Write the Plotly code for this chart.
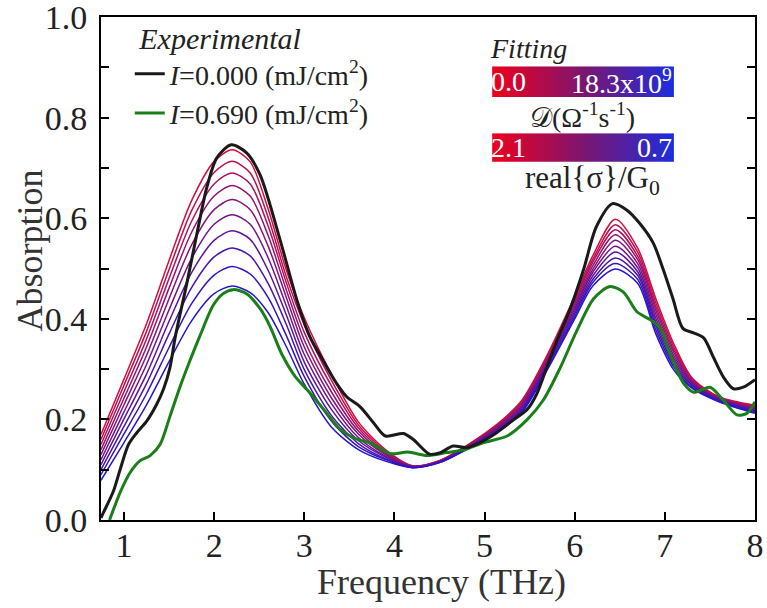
import numpy as np
import plotly.graph_objects as go

# ---------------- data ----------------
fit_freq = [0.745, 1.0, 1.25, 1.5, 1.75, 2.0, 2.2, 2.4, 2.6, 2.8, 3.0, 3.3, 3.6, 3.9, 4.2,
            4.5, 4.8, 5.1, 5.4, 5.7, 6.0, 6.2, 6.45, 6.7, 6.9, 7.1, 7.3, 7.6, 8.0]

fit_01 = [0.170, 0.280, 0.390, 0.516, 0.635, 0.713, 0.736, 0.712, 0.618, 0.497, 0.402, 0.290, 0.195, 0.140, 0.108,
          0.118, 0.148, 0.185, 0.235, 0.330, 0.445, 0.525, 0.598, 0.540, 0.440, 0.350, 0.283, 0.245, 0.228]
fit_02 = [0.160, 0.268, 0.375, 0.498, 0.615, 0.691, 0.713, 0.690, 0.601, 0.484, 0.388, 0.278, 0.189, 0.137, 0.108,
          0.118, 0.147, 0.183, 0.232, 0.327, 0.440, 0.518, 0.587, 0.532, 0.432, 0.344, 0.281, 0.244, 0.226]
fit_03 = [0.150, 0.255, 0.360, 0.480, 0.594, 0.668, 0.690, 0.668, 0.584, 0.472, 0.373, 0.267, 0.183, 0.135, 0.107,
          0.117, 0.146, 0.182, 0.229, 0.323, 0.435, 0.512, 0.577, 0.524, 0.424, 0.338, 0.278, 0.243, 0.224]
fit_04 = [0.140, 0.242, 0.344, 0.461, 0.572, 0.644, 0.665, 0.644, 0.565, 0.458, 0.358, 0.255, 0.177, 0.132, 0.107,
          0.117, 0.145, 0.180, 0.227, 0.320, 0.430, 0.505, 0.567, 0.517, 0.417, 0.333, 0.276, 0.242, 0.223]
fit_05 = [0.130, 0.229, 0.327, 0.440, 0.547, 0.617, 0.637, 0.617, 0.544, 0.443, 0.344, 0.243, 0.171, 0.130, 0.106,
          0.116, 0.144, 0.178, 0.224, 0.317, 0.425, 0.498, 0.556, 0.509, 0.409, 0.327, 0.274, 0.241, 0.221]
fit_06 = [0.120, 0.215, 0.309, 0.418, 0.520, 0.588, 0.607, 0.588, 0.521, 0.426, 0.329, 0.232, 0.164, 0.127, 0.106,
          0.116, 0.144, 0.177, 0.221, 0.313, 0.420, 0.492, 0.544, 0.501, 0.401, 0.321, 0.272, 0.240, 0.219]
fit_07 = [0.110, 0.201, 0.290, 0.395, 0.492, 0.556, 0.575, 0.558, 0.496, 0.408, 0.314, 0.220, 0.158, 0.125, 0.105,
          0.115, 0.143, 0.175, 0.218, 0.310, 0.415, 0.485, 0.533, 0.493, 0.393, 0.315, 0.269, 0.239, 0.217]
fit_08 = [0.100, 0.186, 0.271, 0.370, 0.462, 0.523, 0.541, 0.525, 0.470, 0.389, 0.299, 0.208, 0.152, 0.122, 0.105,
          0.115, 0.142, 0.173, 0.216, 0.307, 0.410, 0.478, 0.521, 0.486, 0.386, 0.309, 0.267, 0.238, 0.216]
fit_09 = [0.090, 0.171, 0.251, 0.343, 0.430, 0.487, 0.504, 0.489, 0.442, 0.367, 0.285, 0.197, 0.146, 0.120, 0.104,
          0.114, 0.141, 0.172, 0.213, 0.303, 0.405, 0.472, 0.510, 0.478, 0.378, 0.304, 0.264, 0.236, 0.214]
fit_10 = [0.079, 0.154, 0.229, 0.315, 0.396, 0.450, 0.465, 0.452, 0.412, 0.345, 0.270, 0.185, 0.140, 0.117, 0.104,
          0.114, 0.140, 0.170, 0.210, 0.300, 0.400, 0.465, 0.499, 0.470, 0.370, 0.298, 0.262, 0.235, 0.212]
fit_curves = [fit_01, fit_02, fit_03, fit_04, fit_05, fit_06, fit_07, fit_08, fit_09, fit_10]

exp0_freq = [0.745, 0.77, 0.88, 0.96, 1.05, 1.14, 1.25, 1.36, 1.44, 1.51, 1.57, 1.70, 1.81, 1.92, 2.03, 2.19,
             2.36, 2.51, 2.73, 2.92, 3.06, 3.19, 3.36, 3.47, 3.62, 3.77, 3.90, 4.10, 4.21, 4.39, 4.51, 4.65,
             4.80, 4.95, 5.13, 5.32, 5.47, 5.58, 5.69, 5.80, 5.95, 6.10, 6.24, 6.42, 6.58, 6.72, 6.87, 6.98,
             7.09, 7.20, 7.32, 7.43, 7.54, 7.65, 7.76, 7.87, 8.0]
exp0_abs = [0.004, 0.014, 0.056, 0.102, 0.150, 0.173, 0.196, 0.229, 0.261, 0.303, 0.365, 0.473, 0.570, 0.662, 0.720, 0.746,
            0.730, 0.686, 0.558, 0.436, 0.365, 0.323, 0.271, 0.245, 0.225, 0.193, 0.167, 0.172, 0.160, 0.131, 0.134, 0.147,
            0.144, 0.154, 0.173, 0.199, 0.219, 0.251, 0.303, 0.355, 0.420, 0.499, 0.583, 0.629, 0.616, 0.590, 0.551, 0.499,
            0.440, 0.381, 0.372, 0.362, 0.323, 0.284, 0.261, 0.264, 0.279]

exp1_freq = [0.84, 0.96, 1.07, 1.18, 1.29, 1.40, 1.51, 1.62, 1.73, 1.84, 1.99, 2.10, 2.21, 2.36, 2.51, 2.62,
             2.75, 2.90, 3.00, 3.10, 3.25, 3.40, 3.55, 3.75, 3.95, 4.15, 4.36, 4.58, 4.80, 4.99, 5.25, 5.47,
             5.65, 5.84, 6.02, 6.21, 6.39, 6.54, 6.69, 6.84, 6.95, 7.06, 7.21, 7.32, 7.50, 7.65, 7.80, 7.91, 8.0]
exp1_abs = [0.000, 0.056, 0.095, 0.118, 0.128, 0.150, 0.206, 0.264, 0.316, 0.365, 0.427, 0.450, 0.458, 0.450, 0.420, 0.385,
            0.330, 0.285, 0.265, 0.245, 0.212, 0.180, 0.163, 0.152, 0.132, 0.135, 0.128, 0.134, 0.141, 0.154, 0.167, 0.199,
            0.238, 0.303, 0.375, 0.440, 0.464, 0.453, 0.414, 0.398, 0.381, 0.329, 0.271, 0.254, 0.264, 0.238, 0.209, 0.212, 0.235]

exp_names = ["<i>I</i>=0.000 (mJ/cm<sup>2</sup>)", "<i>I</i>=0.690 (mJ/cm<sup>2</sup>)"]
y_ticks = [0.0, 0.2, 0.4, 0.6, 0.8, 1.0]
x_ticks = [1, 2, 3, 4, 5, 6, 7, 8]
drude_labels = ["0.0", "18.3x10<sup>9</sup>"]
sigma_labels = ["2.1", "0.7"]

# ---------------- styling ----------------
FONT = "Liberation Serif"
c_start = np.array([208, 16, 62])
c_end = np.array([36, 22, 205])

def fit_color(i, n):
    t = i / (n - 1)
    c = (1 - t) * c_start + t * c_end
    return "rgb(%d,%d,%d)" % tuple(c.round().astype(int))

fig = go.Figure()

n = len(fit_curves)
for i, vals in enumerate(fit_curves):
    fig.add_trace(go.Scatter(x=fit_freq, y=vals, mode="lines",
                             line=dict(color=fit_color(i, n), width=1.5, shape="spline", smoothing=0.8),
                             showlegend=False, hoverinfo="skip"))

fig.add_trace(go.Scatter(x=exp1_freq, y=exp1_abs, mode="lines", name=exp_names[1],
                         line=dict(color="#1a7f1a", width=3, shape="spline", smoothing=0.8)))
fig.add_trace(go.Scatter(x=exp0_freq, y=exp0_abs, mode="lines", name=exp_names[0],
                         line=dict(color="#1a1a1a", width=3, shape="spline", smoothing=0.8)))

# colour bars drawn as heatmaps on their own small axes
grad = [np.linspace(0, 1, 256).tolist()]
cscale = [[0, "rgb(238,0,30)"], [0.5, "rgb(124,22,112)"], [1, "rgb(28,46,222)"]]
fig.add_trace(go.Heatmap(z=grad, xaxis="x2", yaxis="y2", colorscale=cscale, showscale=False,
                         zsmooth="best", hoverinfo="skip"))
fig.add_trace(go.Heatmap(z=grad, xaxis="x3", yaxis="y3", colorscale=cscale, showscale=False,
                         zsmooth="best", hoverinfo="skip"))

hidden = dict(visible=False, showgrid=False, zeroline=False, fixedrange=True)

fig.update_layout(
    width=767, height=608,
    margin=dict(l=101, r=12, t=10, b=88),
    paper_bgcolor="white", plot_bgcolor="white",
    font=dict(family=FONT, color="#222"),
    xaxis=dict(range=[0.745, 8.0], tickvals=x_ticks, ticks="inside", ticklen=8, tickwidth=1.5,
               tickcolor="black", showline=True, linecolor="black", linewidth=2, mirror=True,
               showgrid=False, zeroline=False, automargin=False, ticklabelstandoff=-6,
               ticklabeloverflow="allow",
               tickfont=dict(size=34, family=FONT, color="#222")),
    yaxis=dict(range=[0, 1.0], tickvals=y_ticks, tickformat=".1f", ticks="inside", ticklen=8, tickwidth=1.5,
               tickcolor="black", showline=True, linecolor="black", linewidth=2, mirror="ticks",
               minor=dict(dtick=0.1, ticks="inside", ticklen=8, tickwidth=1.5, tickcolor="black", showgrid=False),
               showgrid=False, zeroline=False, automargin=False, ticklabelstandoff=5,
               ticklabeloverflow="allow",
               tickfont=dict(size=34, family=FONT, color="#222")),
    xaxis2=dict(domain=[0.598, 0.876], anchor="y2", **hidden),
    yaxis2=dict(domain=[0.841, 0.902], anchor="x2", **hidden),
    xaxis3=dict(domain=[0.598, 0.876], anchor="y3", **hidden),
    yaxis3=dict(domain=[0.712, 0.769], anchor="x3", **hidden),
    legend=dict(x=0.044, y=1.014, xanchor="left", yanchor="top", bgcolor="rgba(0,0,0,0)",
                font=dict(size=28, family=FONT, color="#222"), traceorder="reversed",
                title=dict(text="&nbsp;<i>Experimental</i>", font=dict(size=30, family=FONT, color="#222")),
                tracegroupgap=0),
)

ann = dict(xref="paper", yref="paper", showarrow=False)
fig.add_annotation(text="Frequency (THz)", x=0.52, y=-0.124, xanchor="center", yanchor="middle",
                   font=dict(size=36, family=FONT, color="#333"), **ann)
fig.add_annotation(text="Absorption", x=-0.109, y=0.535, xanchor="center", yanchor="middle", textangle=-90,
                   font=dict(size=36, family=FONT, color="#333"), **ann)
fig.add_annotation(text="<i>Fitting</i>", x=0.591, y=0.937, xanchor="left", yanchor="middle",
                   font=dict(size=28, family=FONT, color="#222"), **ann)
fig.add_annotation(text=drude_labels[0], x=0.594, y=0.872, xanchor="left", yanchor="middle",
                   font=dict(size=28, family=FONT, color="white"), **ann)
fig.add_annotation(text=drude_labels[1], x=0.876, y=0.872, xanchor="right", yanchor="middle",
                   font=dict(size=28, family=FONT, color="white"), **ann)
fig.add_annotation(text="\U0001D49F(\u03A9<sup>-1</sup>s<sup>-1</sup>)", x=0.736, y=0.804,
                   xanchor="center", yanchor="middle", font=dict(size=28, family=FONT, color="#222"), **ann)
fig.add_annotation(text=sigma_labels[0], x=0.594, y=0.740, xanchor="left", yanchor="middle",
                   font=dict(size=28, family=FONT, color="white"), **ann)
fig.add_annotation(text=sigma_labels[1], x=0.876, y=0.740, xanchor="right", yanchor="middle",
                   font=dict(size=28, family=FONT, color="white"), **ann)
fig.add_annotation(text="real{\u03C3}/G<sub>0</sub>", x=0.752, y=0.676, xanchor="center", yanchor="middle",
                   font=dict(size=31, family=FONT, color="#222"), **ann)

fig.write_html("out.html", config={"displayModeBar": False},
               post_script="document.body.style.margin='0';")
